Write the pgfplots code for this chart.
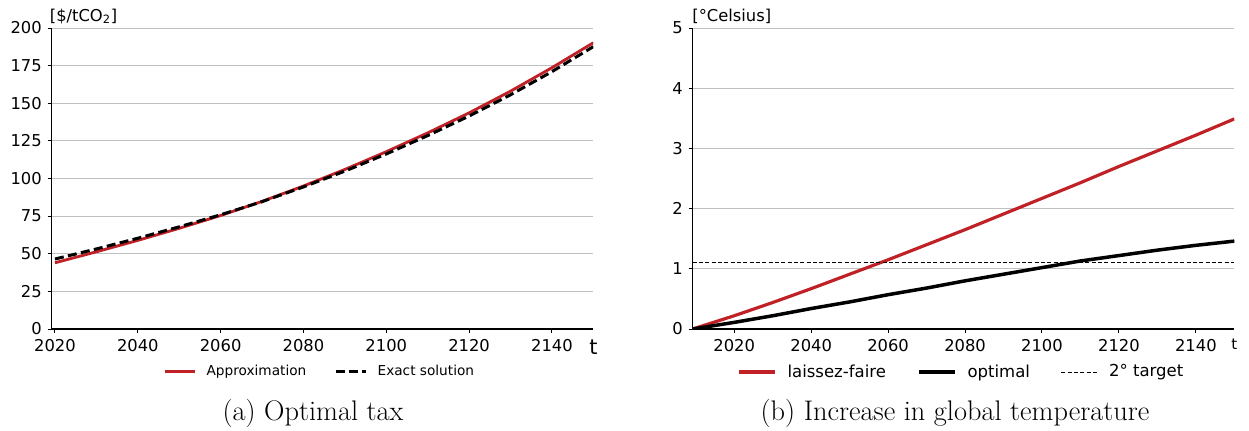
\documentclass[border=0pt]{standalone}
\usepackage{fontspec}
\usepackage{pgfplots}
\pgfplotsset{compat=1.18}
\newfontfamily\dv{DejaVu Sans}
\definecolor{myred}{RGB}{192,33,38}
\definecolor{gridc}{RGB}{192,192,192}

\pgfplotsset{mystyle/.style={
  scale only axis, width=325pt, height=180.6pt,
  axis lines=left, axis line style={-, line width=0.7pt, black},
  tick align=outside, major tick length=2.4pt,
  tick style={black, line width=0.6pt},
  ymajorgrids, grid style={gridc, line width=0.6pt},
  xtick={2020,2040,...,2140},
  tick label style={font=\dv\fontsize{9.8}{11}\selectfont},
  /pgf/number format/assume math mode=true,
  /pgf/number format/1000 sep={},
  every axis y label/.style={at={(axis description cs:0,1)}, anchor=base west, yshift=4.2pt, font=\dv\fontsize{9.8}{11}\selectfont},
  every axis x label/.style={at={(axis description cs:1,0)}, anchor=center},
  legend style={draw=none, fill=none, anchor=center},
}}

\pgfplotstableread{
t approx exact
2020 44.0 46.5
2030 51.3 53.2
2040 58.9 60.3
2050 66.9 67.9
2060 75.4 75.9
2070 84.8 84.6
2080 95.0 94.4
2090 106.0 104.9
2100 117.8 116.3
2110 130.3 128.5
2120 143.6 141.5
2130 158.0 155.6
2140 173.6 171.0
2150 190.2 187.6
}\taxdata

\pgfplotstableread{
t lf opt
2009.2 0.00 0.00
2020 0.22 0.11
2030 0.44 0.22
2040 0.67 0.34
2050 0.91 0.45
2060 1.15 0.57
2070 1.40 0.68
2080 1.65 0.80
2090 1.91 0.91
2100 2.17 1.02
2110 2.43 1.13
2120 2.70 1.22
2130 2.96 1.31
2140 3.22 1.39
2150 3.49 1.46
}\tempdata

\pgfplotstableread{
t v
2009.2 1.1
2150 1.1
}\targetdata

\begin{document}
\begin{tikzpicture}
\path[use as bounding box] (0,0) rectangle (749.4pt,258pt);

\begin{axis}[mystyle,
  at={(31pt,60.6pt)}, anchor=south west,
  xmin=2019.2, xmax=2150, ymin=0, ymax=200,
  ytick={0,25,...,200},
  ylabel={[\$/tCO\textsubscript{2}]},
  ylabel style={xshift=-4.6pt},
  xlabel={t},
  xlabel style={yshift=-10.8pt, font=\dv\fontsize{12.5}{14}\selectfont},
  legend columns=2,
  legend image code/.code={\draw[#1] (0pt,0pt) -- (18pt,0pt);},
  legend style={at={(0.496,-0.14)}, font=\dv\fontsize{8.2}{10}\selectfont,
    /tikz/every odd column/.append style={column sep=4.3pt},
    /tikz/every even column/.append style={column sep=14.7pt}},
]
\addplot[myred, line width=1.7pt] table[x=t, y=approx] {\taxdata};
\addlegendentry{Approximation}
\addplot[black, line width=1.8pt, dash pattern=on 5.4pt off 2.6pt] table[x=t, y=exact] {\taxdata};
\addlegendentry{Exact solution}
\end{axis}

\begin{axis}[mystyle,
  at={(415.6pt,60.6pt)}, anchor=south west,
  xmin=2009.2, xmax=2150, ymin=0, ymax=5,
  ytick={0,1,...,5},
  ylabel={[°Celsius]},
  ylabel style={xshift=-3.7pt},
  xlabel={t},
  xlabel style={yshift=-9pt, font=\dv\fontsize{9}{11}\selectfont},
  legend columns=3,
  legend image code/.code={\draw[#1] (0pt,0pt) -- (21.8pt,0pt);},
  legend style={at={(0.497,-0.143)}, font=\dv\fontsize{9.9}{12}\selectfont,
    /tikz/every odd column/.append style={column sep=4.6pt},
    /tikz/every even column/.append style={column sep=16.5pt}},
]
\addplot[myred, line width=1.9pt] table[x=t, y=lf] {\tempdata};
\addlegendentry{laissez-faire}
\addplot[black, line width=2.1pt] table[x=t, y=opt] {\tempdata};
\addlegendentry{optimal}
\addplot[black, line width=0.6pt, dash pattern=on 2.4pt off 1.4pt] table[x=t, y=v] {\targetdata};
\addlegendentry{2° target}
\end{axis}

\node[anchor=base, font=\fontsize{17}{20}\selectfont] at (187.8pt,6.0pt) {(a) Optimal tax};
\node[anchor=base, font=\fontsize{17}{20}\selectfont] at (573pt,6.0pt) {(b) Increase in global temperature};
\end{tikzpicture}
\end{document}
